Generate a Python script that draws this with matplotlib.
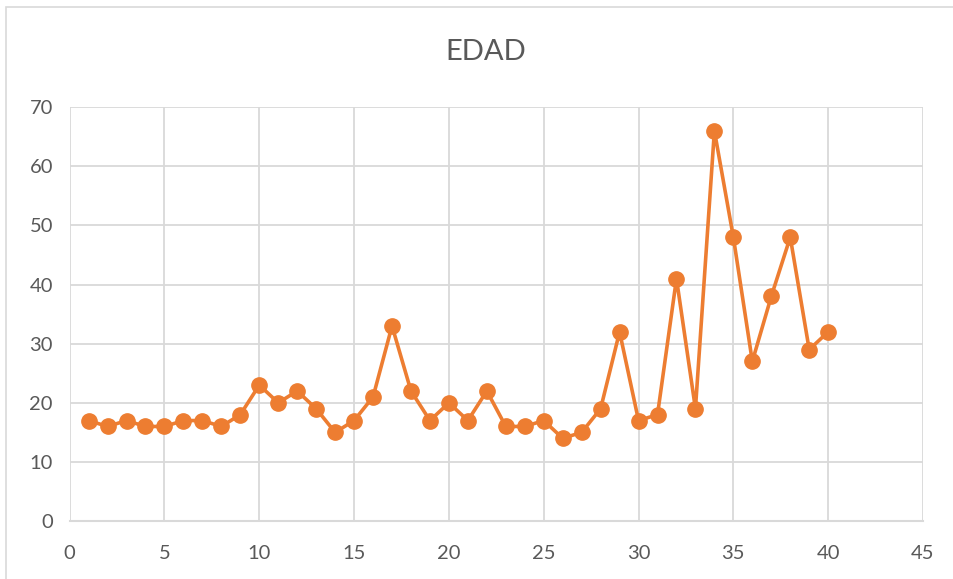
import matplotlib
import matplotlib.pyplot as plt

matplotlib.use("Agg")

# Data
x_values = list(range(1, 41))
edad = [17, 16, 17, 16, 16, 17, 17, 16, 18, 23,
        20, 22, 19, 15, 17, 21, 33, 22, 17, 20,
        17, 22, 16, 16, 17, 14, 15, 19, 32, 17,
        18, 41, 19, 66, 48, 27, 38, 48, 29, 32]
x_ticks = list(range(0, 46, 5))
y_ticks = list(range(0, 71, 10))

plt.rcParams["font.family"] = ["Lato", "DejaVu Sans"]

fig = plt.figure(figsize=(9.54, 5.79), dpi=100)
ax = fig.add_axes([0.073, 0.1, 0.8945, 0.715])

ax.plot(x_values, edad, color="#ED7D31", linewidth=2.6,
        marker="o", markersize=11, zorder=3)

ax.set_xlim(0, 45)
ax.set_ylim(0, 70)
ax.set_xticks(x_ticks)
ax.set_yticks(y_ticks)

# Excel-like styling
grid_color = "#D9D9D9"
ax.grid(True, color=grid_color, linewidth=1.3)
for side in ("top", "right", "left"):
    ax.spines[side].set_visible(False)
ax.spines["bottom"].set_color(grid_color)
ax.spines["bottom"].set_linewidth(1.5)
ax.tick_params(length=0, labelsize=14.5, colors="#595959")
ax.tick_params(axis="x", pad=17)
ax.tick_params(axis="y", pad=12)

fig.text(0.509, 0.91, "EDAD", ha="center", va="center",
         fontsize=21, color="#595959")

# Chart area border
fig.patches.append(plt.Rectangle((0.006, -0.01), 1.0, 0.998,
                                 transform=fig.transFigure, fill=False,
                                 edgecolor="#D9D9D9", linewidth=1.2))

fig.savefig("out.png", dpi=100)
plt.close(fig)
